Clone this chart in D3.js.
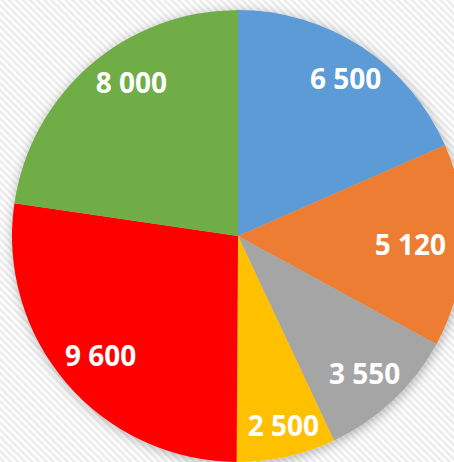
<!DOCTYPE html>
<html>
<head>
<meta charset="utf-8">
<script src="https://cdn.jsdelivr.net/npm/d3@7"></script>
<style>
html,body{margin:0;padding:0;background:#fff;overflow:hidden;}
svg{display:block;}
</style>
</head>
<body>
<script>
const categories = ["A", "B", "C", "D", "E", "F"];
const values = [6500, 5120, 3550, 2500, 9600, 8000];
const labels = ["6 500", "5 120", "3 550", "2 500", "9 600", "8 000"];
const colors = ["#5b9bd5", "#ed7d31", "#a5a5a5", "#ffc000", "#ff0000", "#70ad47"];
// label nudges (style only, pixels)
const labelNudge = [[5, -1], [0, 0], [-2, 0], [5, 6], [5, -3], [16, -12]];

const W = 454, H = 462;
const cx = 238, cy = 236, R = 226;

const svg = d3.select("body").append("svg").attr("width", W).attr("height", H);
const defs = svg.append("defs");

const pat = defs.append("pattern")
  .attr("id", "hatch").attr("patternUnits", "userSpaceOnUse")
  .attr("width", 5).attr("height", 5)
  .attr("patternTransform", "rotate(-45)");
pat.append("rect").attr("width", 5).attr("height", 5).attr("fill", "#ffffff");
pat.append("rect").attr("width", 2.5).attr("height", 5).attr("fill", "#ebebeb");

const flt = defs.append("filter").attr("id", "shadow")
  .attr("x", "-20%").attr("y", "-20%").attr("width", "140%").attr("height", "140%");
flt.append("feGaussianBlur").attr("in", "SourceAlpha").attr("stdDeviation", 6).attr("result", "b");
flt.append("feOffset").attr("in", "b").attr("dx", 1).attr("dy", 2).attr("result", "o");
flt.append("feComponentTransfer").attr("in", "o").attr("result", "s")
  .append("feFuncA").attr("type", "linear").attr("slope", 0.3);
const m = flt.append("feMerge");
m.append("feMergeNode").attr("in", "s");
m.append("feMergeNode").attr("in", "SourceGraphic");

svg.append("rect").attr("width", W).attr("height", H).attr("fill", "url(#hatch)");

const pie = d3.pie().sort(null).value(d => d.v);
const data = pie(categories.map((c, i) => ({c, v: values[i], label: labels[i], color: colors[i], nudge: labelNudge[i]})));
const arc = d3.arc().innerRadius(0).outerRadius(R);

const g = svg.append("g").attr("transform", `translate(${cx},${cy})`);
const pg = g.append("g").attr("filter", "url(#shadow)");
pg.selectAll("path").data(data).enter().append("path")
  .attr("d", arc).attr("fill", d => d.data.color);

const labelR = R * 0.83;
const fontSize = 28;
const tg = g.append("g");
tg.selectAll("text").data(data).enter().append("text")
  .attr("text-anchor", "middle")
  .attr("dominant-baseline", "central")
  .attr("font-family", "'Open Sans', sans-serif")
  .attr("font-weight", "bold")
  .attr("font-size", fontSize)
  .attr("fill", "#ffffff")
  .text(d => d.data.label)
  .each(function(d) {
    const a = (d.startAngle + d.endAngle) / 2;
    let x = labelR * Math.sin(a), y = -labelR * Math.cos(a);
    const w = this.getComputedTextLength();
    const maxX = W - cx - 8 - w / 2;
    if (x > maxX) x = maxX;
    x += d.data.nudge[0];
    y += d.data.nudge[1];
    d3.select(this).attr("x", x).attr("y", y);
  });
</script>
</body>
</html>
